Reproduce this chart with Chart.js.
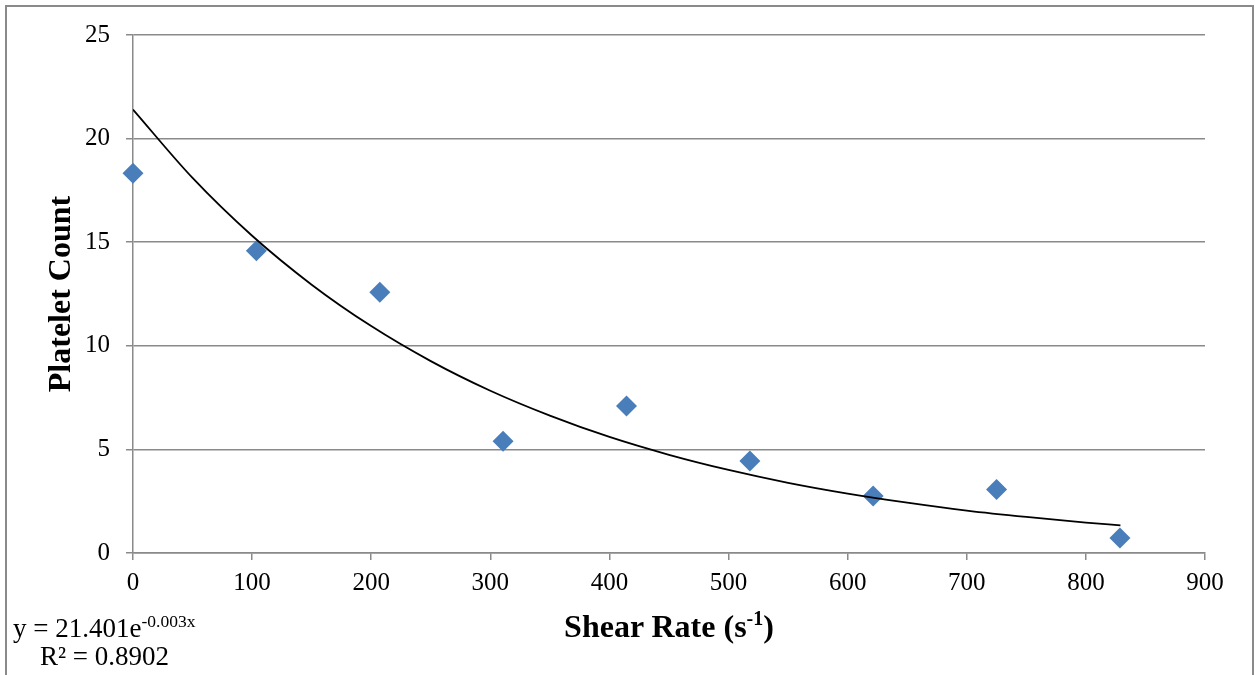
<!DOCTYPE html>
<html>
<head>
<meta charset="utf-8">
<script src="https://cdn.jsdelivr.net/npm/chart.js@4/dist/chart.umd.min.js"></script>
<style>
    html, body { margin: 0; padding: 0; background: #fff; }
    #caixa { position: relative; width: 1255px; height: 675px; overflow: hidden; }
    #moldura {
        position: absolute; left: 5px; top: 5px; width: 1249px; height: 700px;
        box-sizing: border-box; border: 2px solid #8a8a8a; pointer-events: none;
    }
    .texto {
        position: absolute; font-family: "Liberation Serif", "Times New Roman", serif;
        color: #000; white-space: nowrap;
    }
    .equacao { font-size: 27px; line-height: 28px; }
    .equacao sup { font-size: 17.5px; vertical-align: 10px; line-height: 0; }
    #titulo-x {
        left: 133px; width: 1072px; top: 608px; text-align: center;
        font-size: 32px; line-height: 36px; font-weight: bold;
    }
    #titulo-x sup { font-size: 20px; vertical-align: 12px; line-height: 0; }
</style>
</head>
<body>
<div id="caixa">
    <canvas id="grafico" width="1255" height="675"></canvas>
    <div id="moldura"></div>
    <div id="titulo-x" class="texto">Shear Rate (s<sup>-1</sup>)</div>
    <div class="texto equacao" style="left:13px; top:614px;">y = 21.401e<sup>-0.003x</sup></div>
    <div class="texto equacao" style="left:40px; top:642px;">R² = 0.8902</div>
</div>

<script>
// Dados
const shearRate = [0, 103.6, 207.2, 310.7, 414.3, 517.9, 621.4, 725, 828.6];
const plateletCount = [18.33, 14.59, 12.58, 5.39, 7.09, 4.44, 2.75, 3.07, 0.72];

// Linha de tendência (pontos lidos sobre a curva)
const trendX = [0, 50, 100, 150, 200, 250, 300, 350, 400, 450, 500, 550, 600, 650, 700, 750, 800, 829];
const trendY = [21.40, 18.10, 15.31, 12.95, 10.95, 9.26, 7.83, 6.63, 5.60, 4.74, 4.01, 3.39, 2.87, 2.43, 2.05, 1.74, 1.47, 1.33];

// Marcas dos eixos
const xTicks = [0, 100, 200, 300, 400, 500, 600, 700, 800, 900];
const yTicks = [0, 5, 10, 15, 20, 25];

const fonte = "'Liberation Serif', 'Times New Roman', serif";
const cinza = "#8a8a8a";

function montarPontos(xs, ys) {
    return xs.map((x, i) => ({ x: x, y: ys[i] }));
}

const ctx = document.getElementById("grafico").getContext("2d");

new Chart(ctx, {
    type: "scatter",
    data: {
        datasets: [
            {
                label: "Platelet Count",
                data: montarPontos(shearRate, plateletCount),
                pointStyle: "rectRot",
                pointRadius: 10.5,
                pointHoverRadius: 10.5,
                backgroundColor: "#4A7EBB",
                borderColor: "#4A7EBB",
                borderWidth: 0,
                clip: false,
                order: 1
            },
            {
                label: "Expon. (Platelet Count)",
                data: montarPontos(trendX, trendY),
                showLine: true,
                pointRadius: 0,
                borderColor: "#000",
                borderWidth: 1.8,
                cubicInterpolationMode: "monotone",
                fill: false,
                order: 0
            }
        ]
    },
    options: {
        responsive: false,
        animation: false,
        events: [],
        layout: { padding: { left: 0, right: 50, top: 35, bottom: 0 } },
        plugins: {
            legend: { display: false },
            tooltip: { enabled: false }
        },
        scales: {
            x: {
                type: "linear",
                min: 0,
                max: 900,
                afterBuildTicks: (scale) => { scale.ticks = xTicks.map(v => ({ value: v })); },
                afterFit: (scale) => { scale.height = 122; scale.paddingLeft = 0; scale.paddingRight = 0; },
                grid: { drawOnChartArea: false, drawTicks: true, tickLength: 7, color: cinza, lineWidth: 1.5 },
                border: { display: true, color: cinza, width: 1.5 },
                ticks: { color: "#000", padding: 8, font: { family: fonte, size: 25 } }
            },
            y: {
                type: "linear",
                min: 0,
                max: 25,
                afterBuildTicks: (scale) => { scale.ticks = yTicks.map(v => ({ value: v })); },
                afterFit: (scale) => { scale.width = 133; scale.paddingTop = 0; scale.paddingBottom = 0; },
                grid: { drawOnChartArea: true, drawTicks: true, tickLength: 7, color: cinza, lineWidth: 1.5 },
                border: { display: true, color: cinza, width: 1.5 },
                ticks: { color: "#000", padding: 16, font: { family: fonte, size: 25 } },
                title: {
                    display: true,
                    text: "Platelet Count",
                    color: "#000",
                    font: { family: fonte, size: 32, weight: "bold" },
                    padding: { top: 43, bottom: 0 }
                }
            }
        }
    }
});
</script>
</body>
</html>
